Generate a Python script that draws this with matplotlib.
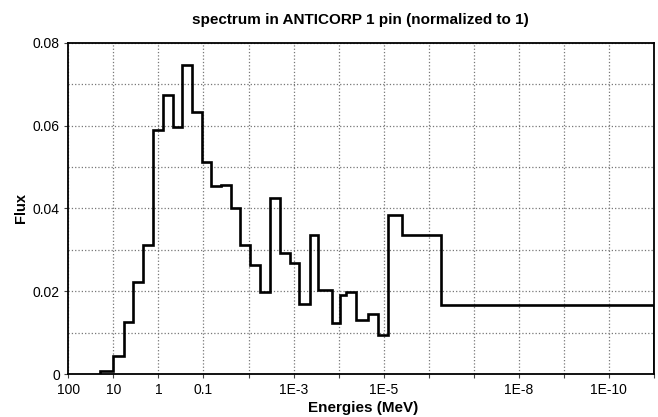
import numpy as np
import matplotlib
matplotlib.use("Agg")
import matplotlib.pyplot as plt
from matplotlib.ticker import FixedLocator, MultipleLocator, NullFormatter

plt.rcParams['font.family'] = ['Liberation Sans', 'DejaVu Sans']

# group boundaries (MeV), high to low energy
edges = [19.5, 10.0, 5.89, 3.6, 2.2, 1.32, 0.80, 0.48, 0.30, 0.18, 0.108,
         0.067, 0.041, 0.0245, 0.0152, 0.0093, 0.0056, 0.0033, 0.0020,
         0.00122, 7.45e-4, 4.39e-4, 2.91e-4, 1.42e-4, 9.3e-5, 6.85e-5,
         4.05e-5, 2.19e-5, 1.33e-5, 8.1e-6, 3.97e-6, 5.33e-7, 1e-11]
flux = [0.0008, 0.0044, 0.0127, 0.0222, 0.0313, 0.0590, 0.0673, 0.0596,
        0.0747, 0.0634, 0.0513, 0.0455, 0.0457, 0.0400, 0.0313, 0.0264,
        0.0198, 0.0425, 0.0293, 0.0269, 0.0170, 0.0337, 0.0204, 0.0123,
        0.0191, 0.0199, 0.0131, 0.0145, 0.0096, 0.0385, 0.0336, 0.0166]

decades = [10.0 ** k for k in range(2, -12, -1)]
xlabels = ['100', '10', '1', '0.1', '', '1E-3', '', '1E-5', '', '',
           '1E-8', '', '1E-10', '']
yticks = [0, 0.02, 0.04, 0.06, 0.08]
ylabels = ['0', '0.02', '0.04', '0.06', '0.08']

fig = plt.figure(figsize=(6.58, 4.17), dpi=100)
ax = fig.add_axes([0.1038, 0.1024, 0.8901, 0.7952])

ax.stairs(flux, edges, baseline=0, color='black', linewidth=1.9)

ax.set_xscale('log')
ax.set_xlim(100, 1e-11)
ax.set_ylim(0, 0.08)

ax.xaxis.set_major_locator(FixedLocator(decades))
ax.set_xticklabels(xlabels)
ax.xaxis.set_minor_locator(FixedLocator([]))
ax.xaxis.set_minor_formatter(NullFormatter())
ax.set_yticks(yticks)
ax.set_yticklabels(ylabels)
ax.yaxis.set_minor_locator(MultipleLocator(0.01))

ax.grid(True, which='major', color='#777777', linestyle=':', linewidth=0.9)
ax.grid(True, which='minor', axis='y', color='#777777', linestyle=':', linewidth=0.9)
ax.set_axisbelow(True)

ax.tick_params(axis='both', which='major', labelsize=10, length=3, width=0.8,
               color='#444444', pad=3)
ax.tick_params(axis='y', which='minor', length=0)
for s in ax.spines.values():
    s.set_linewidth(1.3)
    s.set_color('black')

fig.text(360 / 658, 1 - 20 / 417, 'spectrum in ANTICORP 1 pin (normalized to 1)',
         ha='center', va='center', fontsize=11, fontweight='bold')
fig.text(363 / 658, 1 - 408 / 417, 'Energies (MeV)', ha='center', va='center',
         fontsize=11, fontweight='bold')
fig.text(21 / 658, 1 - 208 / 417, 'Flux', ha='center', va='center', rotation=90,
         fontsize=10.5, fontweight='bold')

fig.savefig('out.png', dpi=100)
